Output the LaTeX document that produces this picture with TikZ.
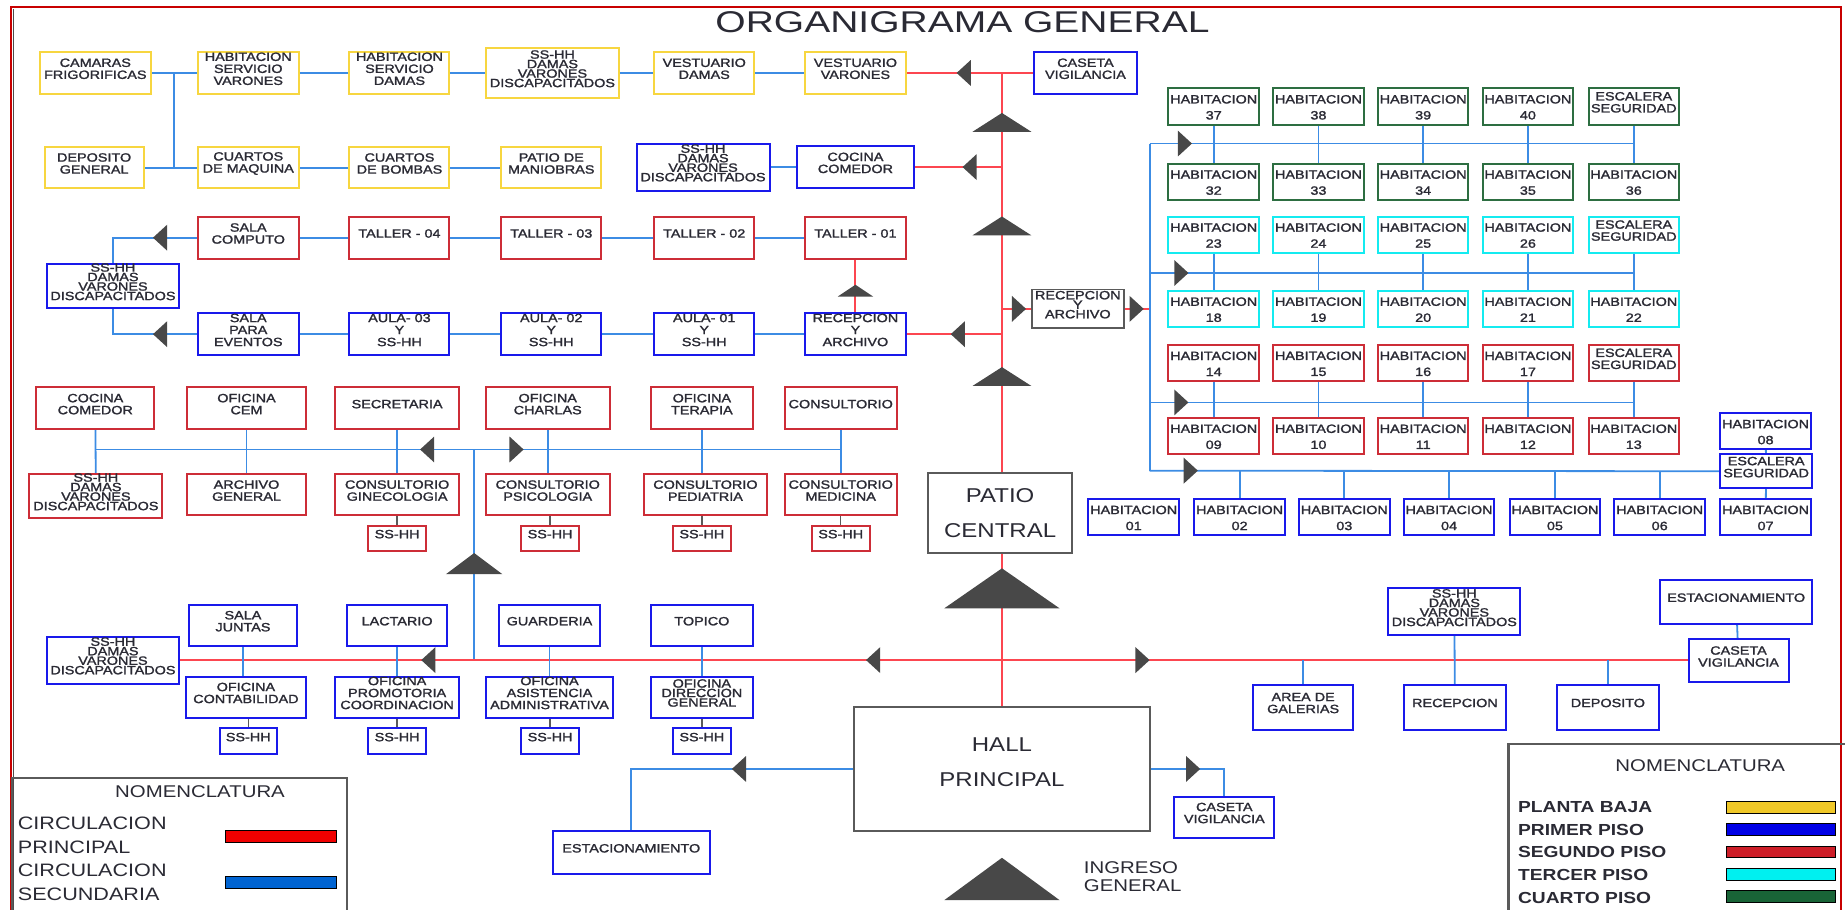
\documentclass[tikz,border=0pt]{standalone}
\usepackage{fontspec}
\setmainfont{Liberation Sans}
\newfontfamily\bxfam[FakeStretch=1.2,FakeBold=1.6]{Liberation Sans}
\newfontfamily\lgfam[FakeStretch=1.2]{Liberation Sans}
\newfontfamily\ttlfam[FakeStretch=1.3]{Liberation Sans}
\usetikzlibrary{fit}
\pgfdeclarelayer{bg}\pgfsetlayers{bg,main}
\definecolor{cyel}{RGB}{247,214,64}
\definecolor{cblu}{RGB}{25,25,235}
\definecolor{cred}{RGB}{205,45,55}
\definecolor{ccya}{RGB}{20,235,240}
\definecolor{cgrn}{RGB}{45,110,65}
\definecolor{cgry}{RGB}{90,90,90}
\definecolor{lblue}{RGB}{60,140,228}
\definecolor{lred}{RGB}{252,70,80}
\definecolor{tgray}{RGB}{72,72,72}
\definecolor{txt}{RGB}{42,42,52}
\definecolor{frame}{RGB}{200,0,0}
\definecolor{barred}{RGB}{240,0,0}
\definecolor{barblue}{RGB}{0,100,210}
\definecolor{baryel}{RGB}{240,200,40}
\definecolor{barblu}{RGB}{0,0,230}
\definecolor{barred2}{RGB}{205,30,40}
\definecolor{barcya}{RGB}{0,240,240}
\definecolor{bargrn}{RGB}{25,100,55}
\newcommand\fA{\bxfam\fontsize{12}{12}\selectfont}
\newcommand\fS{\bxfam\fontsize{12}{9.5}\selectfont}
\newcommand\fR{\bxfam\fontsize{12}{16}\selectfont}
\newcommand\fB{\lgfam\fontsize{20}{35}\selectfont}
\newcommand\fL{\lgfam\fontsize{18}{23.5}\selectfont}
\newcommand\fLB{\lgfam\bfseries\fontsize{16}{20}\selectfont}
\newcommand\fN{\lgfam\fontsize{17}{20}\selectfont}
\newcommand\fI{\lgfam\fontsize{17}{17.6}\selectfont}
\newcommand\fT{\ttlfam\fontsize{30}{32}\selectfont}
\tikzset{
 bx/.style={draw, line width=2pt, inner sep=0pt, outer sep=0pt, align=center, font=\fA, text=txt, fill=white},
 yb/.style={bx, draw=cyel}, bb/.style={bx, draw=cblu}, rb/.style={bx, draw=cred},
 cb/.style={bx, draw=ccya}, gb/.style={bx, draw=cgrn}, kb/.style={bx, draw=cgry, line width=2.2pt},
 ss/.style={font=\fS}, rm/.style={font=\fR},
 sec/.style={draw=lblue, line width=1.8pt},
 pri/.style={draw=lred, line width=2pt},
 stub/.style={draw=cgry, line width=1.5pt},
 tri/.style={fill=tgray},
 bar/.style={draw=black, line width=1pt, inner sep=0pt},
 lgt/.style={anchor=west, inner sep=0pt, text=txt},
}
\newcommand\tril[2]{\fill[tri] (#1,#2) -- ++(12,-11) -- ++(0,22) -- cycle;}
\newcommand\trir[2]{\fill[tri] (#1,#2) -- ++(-12,-11) -- ++(0,22) -- cycle;}
\newcommand\triu[4]{\fill[tri] ({#1-#3},#2) -- ({#1+#3},#2) -- (#1,{#2-#4}) -- cycle;}
\newcommand\rmbox[5]{\node[#1, fit={(#2,#3)({#2+77},{#3+31})}] (#4) {#5};}
\newcommand\hab[1]{\mbox{}\\[-6pt]HABITACION\\#1}
\begin{document}
\begin{tikzpicture}[x=1.1767pt, y=-1.1767pt]
\path[use as bounding box] (0,0) rectangle (1568,773);
% frame
\draw[frame, line width=2pt] (9,800) -- (9,6) -- (1565,6) -- (1565,800);
\draw[black!70, line width=0.6pt] (11.5,8) -- (11.5,800);
\node[font=\fT, text=txt] (ttl) at (818,19) {ORGANIGRAMA GENERAL};

% ---------- row 1 (planta baja)
\node[yb, fit={(34,44)(128,80)}] (cam) {CAMARAS\\FRIGORIFICAS};
\node[yb, fit={(168,44)(254,80)}] (hsv) {HABITACION\\SERVICIO\\VARONES};
\node[yb, fit={(297,44)(382,80)}] (hsd) {HABITACION\\SERVICIO\\DAMAS};
\node[yb, ss, fit={(413,41)(526,83)}] (ssa) {SS-HH\\DAMAS\\VARONES\\DISCAPACITADOS};
\node[yb, fit={(556,44)(641,80)}] (vd) {VESTUARIO\\DAMAS};
\node[yb, fit={(684,44)(770,80)}] (vv) {VESTUARIO\\VARONES};
\node[bb, fit={(879,44)(966,80)}] (cv1) {CASETA\\VIGILANCIA};
% row 2
\node[yb, fit={(38,125)(122,160)}] (dg) {DEPOSITO\\GENERAL};
\node[yb, fit={(168,125)(254,160)}] (cm) {CUARTOS\\DE MAQUINA};
\node[yb, fit={(297,125)(382,160)}] (cbo) {CUARTOS\\DE BOMBAS};
\node[yb, fit={(426,125)(511,160)}] (pm) {PATIO DE\\MANIOBRAS};
\node[bb, ss, fit={(541,122)(654,162)}] (ssb) {SS-HH\\DAMAS\\VARONES\\DISCAPACITADOS};
\node[bb, fit={(677,124)(777,160)}] (cc1) {COCINA\\COMEDOR};
% row 3
\node[rb, fit={(168,184)(254,220)}] (sc) {SALA\\COMPUTO};
\node[rb, fit={(297,184)(382,220)}] (t4) {TALLER - 04};
\node[rb, fit={(426,184)(511,220)}] (t3) {TALLER - 03};
\node[rb, fit={(556,184)(641,220)}] (t2) {TALLER - 02};
\node[rb, fit={(684,184)(770,220)}] (t1) {TALLER - 01};
\node[bb, ss, fit={(40,224)(152,262)}] (ssc) {SS-HH\\DAMAS\\VARONES\\DISCAPACITADOS};
% row 4
\node[bb, fit={(168,266)(254,302)}] (spe) {SALA\\PARA\\EVENTOS};
\node[bb, fit={(297,266)(382,302)}] (a3) {AULA- 03\\Y\\SS-HH};
\node[bb, fit={(426,266)(511,302)}] (a2) {AULA- 02\\Y\\SS-HH};
\node[bb, fit={(556,266)(641,302)}] (a1) {AULA- 01\\Y\\SS-HH};
\node[bb, fit={(684,266)(770,302)}] (rec1) {RECEPCION\\Y\\ARCHIVO};
\node[kb, ss, line width=1.8pt, fit={(877,246)(955,279)}] (rec2) {RECEPCION\\Y\\ARCHIVO};

% ---------- rooms
\rmbox{gb,rm}{993}{75}{h37}{\hab{37}}
\rmbox{gb,rm}{1082}{75}{h38}{\hab{38}}
\rmbox{gb,rm}{1171}{75}{h39}{\hab{39}}
\rmbox{gb,rm}{1260}{75}{h40}{\hab{40}}
\rmbox{gb}{1350}{75}{e4}{ESCALERA\\SEGURIDAD}
\rmbox{gb,rm}{993}{139}{h32}{\hab{32}}
\rmbox{gb,rm}{1082}{139}{h33}{\hab{33}}
\rmbox{gb,rm}{1171}{139}{h34}{\hab{34}}
\rmbox{gb,rm}{1260}{139}{h35}{\hab{35}}
\rmbox{gb,rm}{1350}{139}{h36}{\hab{36}}
\rmbox{cb,rm}{993}{184}{h23}{\hab{23}}
\rmbox{cb,rm}{1082}{184}{h24}{\hab{24}}
\rmbox{cb,rm}{1171}{184}{h25}{\hab{25}}
\rmbox{cb,rm}{1260}{184}{h26}{\hab{26}}
\rmbox{cb}{1350}{184}{e3}{ESCALERA\\SEGURIDAD}
\rmbox{cb,rm}{993}{247}{h18}{\hab{18}}
\rmbox{cb,rm}{1082}{247}{h19}{\hab{19}}
\rmbox{cb,rm}{1171}{247}{h20}{\hab{20}}
\rmbox{cb,rm}{1260}{247}{h21}{\hab{21}}
\rmbox{cb,rm}{1350}{247}{h22}{\hab{22}}
\rmbox{rb,rm}{993}{293}{h14}{\hab{14}}
\rmbox{rb,rm}{1082}{293}{h15}{\hab{15}}
\rmbox{rb,rm}{1171}{293}{h16}{\hab{16}}
\rmbox{rb,rm}{1260}{293}{h17}{\hab{17}}
\rmbox{rb}{1350}{293}{e2}{ESCALERA\\SEGURIDAD}
\rmbox{rb,rm}{993}{355}{h09}{\hab{09}}
\rmbox{rb,rm}{1082}{355}{h10}{\hab{10}}
\rmbox{rb,rm}{1171}{355}{h11}{\hab{11}}
\rmbox{rb,rm}{1260}{355}{h12}{\hab{12}}
\rmbox{rb,rm}{1350}{355}{h13}{\hab{13}}
\rmbox{bb,rm}{925}{424}{r01}{\hab{01}}
\rmbox{bb,rm}{1015}{424}{r02}{\hab{02}}
\rmbox{bb,rm}{1104}{424}{r03}{\hab{03}}
\rmbox{bb,rm}{1193}{424}{r04}{\hab{04}}
\rmbox{bb,rm}{1283}{424}{r05}{\hab{05}}
\rmbox{bb,rm}{1372}{424}{r06}{\hab{06}}
\rmbox{bb,rm}{1462}{424}{r07}{\hab{07}}
\rmbox{bb,rm}{1462}{351}{h08}{\hab{08}}
\node[bb, fit={(1462,386)(1540,415)}] (esc1) {ESCALERA\\SEGURIDAD};

% ---------- middle (segundo piso)
\node[rb, fit={(31,329)(131,365)}] (mcc) {COCINA\\COMEDOR};
\node[rb, fit={(159,329)(260,365)}] (mcem) {OFICINA\\CEM};
\node[rb, fit={(285,329)(390,365)}] (msec) {SECRETARIA};
\node[rb, fit={(413,329)(518,365)}] (mcha) {OFICINA\\CHARLAS};
\node[rb, fit={(553,329)(640,365)}] (mter) {OFICINA\\TERAPIA};
\node[rb, fit={(667,329)(762,365)}] (mcon) {CONSULTORIO};
\node[rb, ss, fit={(25,403)(138,440)}] (mss) {SS-HH\\DAMAS\\VARONES\\DISCAPACITADOS};
\node[rb, fit={(159,403)(260,438)}] (marc) {ARCHIVO\\GENERAL};
\node[rb, fit={(285,403)(390,438)}] (mgin) {CONSULTORIO\\GINECOLOGIA};
\node[rb, fit={(413,403)(518,438)}] (mpsi) {CONSULTORIO\\PSICOLOGIA};
\node[rb, fit={(547,403)(652,438)}] (mped) {CONSULTORIO\\PEDIATRIA};
\node[rb, fit={(667,403)(762,438)}] (mmed) {CONSULTORIO\\MEDICINA};
\node[rb, fit={(313,447)(362,468)}] (s1) {SS-HH};
\node[rb, fit={(443,447)(492,468)}] (s2) {SS-HH};
\node[rb, fit={(572,447)(621,468)}] (s3) {SS-HH};
\node[rb, fit={(690,447)(739,468)}] (s4) {SS-HH};

% ---------- lower (primer piso)
\node[bb, ss, fit={(40,541)(152,581)}] (lss) {SS-HH\\DAMAS\\VARONES\\DISCAPACITADOS};
\node[bb, fit={(161,514)(252,549)}] (lsj) {SALA\\JUNTAS};
\node[bb, fit={(295,514)(380,549)}] (llac) {LACTARIO};
\node[bb, fit={(424,514)(510,549)}] (lgua) {GUARDERIA};
\node[bb, fit={(553,514)(640,549)}] (ltop) {TOPICO};
\node[bb, fit={(158,575)(260,610)}] (lcon) {OFICINA\\CONTABILIDAD};
\node[bb, fit={(285,575)(390,610)}] (lpro) {OFICINA\\PROMOTORIA\\COORDINACION};
\node[bb, fit={(413,575)(521,610)}] (lasi) {OFICINA\\ASISTENCIA\\ADMINISTRATIVA};
\node[bb, ss, fit={(553,575)(640,610)}] (ldir) {OFICINA\\DIRECCION\\GENERAL};
\node[bb, fit={(187,619)(235,641)}] (u1) {SS-HH};
\node[bb, fit={(313,619)(362,641)}] (u2) {SS-HH};
\node[bb, fit={(443,619)(492,641)}] (u3) {SS-HH};
\node[bb, fit={(572,619)(621,641)}] (u4) {SS-HH};
\node[bb, ss, fit={(1180,500)(1292,540)}] (rss) {SS-HH\\DAMAS\\VARONES\\DISCAPACITADOS};
\node[bb, fit={(1193,582)(1280,620)}] (rrec) {RECEPCION};
\node[bb, fit={(1065,582)(1150,620)}] (rgal) {AREA DE\\GALERIAS};
\node[bb, fit={(1323,582)(1410,620)}] (rdep) {DEPOSITO};
\node[bb, fit={(1411,493)(1540,530)}] (rest) {ESTACIONAMIENTO};
\node[bb, fit={(1435,543)(1520,580)}] (cv2) {CASETA\\VIGILANCIA};

% ---------- central
\node[kb, font=\fB, fit={(789,402)(911,470)}] (pc) {\mbox{}\\[-20pt]PATIO\\CENTRAL};
\node[kb, font=\fB, fit={(726,601)(977,706)}] (hall) {HALL\\PRINCIPAL};
\node[bb, fit={(470,706)(603,743)}] (est2) {ESTACIONAMIENTO};
\node[bb, fit={(998,677)(1083,712)}] (cv3) {CASETA\\VIGILANCIA};
\node[font=\fI, text=txt, align=left, anchor=west, inner sep=0pt] (ing) at (921,745) {INGRESO\\GENERAL};

% ---------- coordinates
\coordinate (j1) at (148,62);
\coordinate (bt) at (977,122);
\coordinate (bm2) at (977,232);
\coordinate (bm3) at (977,342);
\coordinate (b4) at (977,400);
\coordinate (mb) at (403,382);

% ---------- connectors
\begin{pgfonlayer}{bg}
\draw[pri] (hall.north) -- (hall.north |- vv.east);
\draw[sec] (cam) -- (hsv) -- (hsd) -- (ssa) -- (vd) -- (vv);
\draw[pri] (vv) -- (cv1);
\draw[sec] (j1) -- (j1 |- dg.east);
\draw[sec] (dg) -- (cm) -- (cbo) -- (pm);
\draw[sec] (ssb) -- (cc1);
\draw[pri] (cc1.east) -- (cc1.east -| hall.north);
\draw[sec] (sc) -- (t4) -- (t3) -- (t2) -- (t1);
\draw[sec] (spe) -- (a3) -- (a2) -- (a1) -- (rec1);
\draw[pri] (t1) -- (rec1);
\draw[pri] (rec1.east) -- (rec1.east -| hall.north);
\draw[sec] (sc.west) -- (sc.west -| ssc.north) -- (ssc.north);
\draw[sec] (ssc.south) -- (ssc.south |- spe.west) -- (spe.west);
\draw[pri] (rec2.west -| hall.north) -- (rec2.west);
\draw[pri] (rec2.east) -- (rec2.east -| bt);
% rooms
\draw[sec] (bt) -- (b4);
\draw[sec] (bt) -- (bt -| e4.south);
\draw[sec] (bm2) -- (bm2 -| e3.south);
\draw[sec] (bm3) -- (bm3 -| e2.south);
\draw[sec] (b4) -- (esc1.west);
\foreach \a/\b in {h37/h32,h38/h33,h39/h34,h40/h35,e4/h36,h23/h18,h24/h19,h25/h20,h26/h21,e3/h22,h14/h09,h15/h10,h16/h11,h17/h12,e2/h13}
  \draw[sec] (\a) -- (\b);
\foreach \r in {r02,r03,r04,r05,r06}
  \draw[sec] (\r.north |- b4) -- (\r.north);
\draw[sec] (h08) -- (esc1);
\draw[sec] (esc1) -- (r07);
% middle
\draw[sec] (mcc.south |- mb) -- (mcon.south |- mb);
\draw[sec] (mcc) -- (mss);
\draw[sec] (mcem) -- (marc);
\draw[sec] (msec) -- (mgin);
\draw[sec] (mcha) -- (mpsi);
\draw[sec] (mter.south) -- (mter.south |- mped.north);
\draw[sec] (mcon) -- (mmed);
\draw[stub] (s1.north |- mgin.south) -- (s1.north);
\draw[stub] (s2.north |- mpsi.south) -- (s2.north);
\draw[stub] (s3.north |- mped.south) -- (s3.north);
\draw[stub] (s4.north |- mmed.south) -- (s4.north);
\draw[sec] (mb) -- (mb |- lss.east);
% lower
\draw[pri] (lss.east) -- (lss.east -| cv2.west);
\draw[sec] (lsj.south) -- (lsj.south |- lcon.north);
\draw[sec] (llac) -- (lpro);
\draw[sec] (lgua) -- (lasi);
\draw[sec] (ltop.south) -- (ltop.south |- ldir.north);
\draw[stub] (u1.north |- lcon.south) -- (u1.north);
\draw[stub] (u2.north |- lpro.south) -- (u2.north);
\draw[stub] (u3.north |- lasi.south) -- (u3.north);
\draw[stub] (u4.north |- ldir.south) -- (u4.north);
\draw[sec] (rss) -- (rrec);
\draw[sec] (rgal.north |- lss.east) -- (rgal.north);
\draw[sec] (rdep.north |- lss.east) -- (rdep.north);
\draw[sec] (rest) -- (cv2);
\draw[sec] (hall.west) -- (hall.west -| est2.north) -- (est2.north);
\draw[sec] (hall.east) -- (hall.east -| cv3.north) -- (cv3.north);
\end{pgfonlayer}

% ---------- triangles
\tril{813}{62}
\tril{818}{142}
\tril{130}{202}
\tril{130}{284}
\tril{808}{284}
\trir{872}{262.5}
\trir{972}{262.5}
\trir{1013}{122}
\trir{1010}{232}
\trir{1010}{342}
\trir{1018}{400}
\tril{357}{382}
\trir{445}{382}
\tril{358}{561}
\tril{736}{561}
\trir{977}{561}
\tril{622}{653.5}
\trir{1020}{653.5}
\triu{851.5}{112}{25}{16}
\triu{851.5}{200}{25}{16}
\triu{851.5}{328}{25}{16}
\triu{727}{252}{15}{10}
\triu{403}{488}{24}{18}
\triu{851.5}{517}{49}{34}
\triu{851.5}{765}{49}{36}

% ---------- legends
\draw[cgry, line width=2.2pt] (10,800) -- (10,661) -- (295,661) -- (295,800);
\node[font=\fN, text=txt] (lgn1) at (170,673) {NOMENCLATURA};
\node[lgt, font=\fL] (lg1a) at (15,700) {CIRCULACION};
\node[lgt, font=\fL] (lg1b) at (15,720) {PRINCIPAL};
\node[lgt, font=\fL] (lg1c) at (15,740) {CIRCULACION};
\node[lgt, font=\fL] (lg1d) at (15,760) {SECUNDARIA};
\node[bar, fill=barred, fit={(192,706)(286,716)}] (bar1) {};
\node[bar, fill=barblue, fit={(192,745)(286,755)}] (bar2) {};

\draw[cgry, line width=2.2pt] (1282,800) -- (1282,632) -- (1580,632);
\node[font=\fN, text=txt] (lgn2) at (1445,651) {NOMENCLATURA};
\node[lgt, font=\fLB] (lg2a) at (1290,686) {PLANTA BAJA};
\node[lgt, font=\fLB] (lg2b) at (1290,705) {PRIMER PISO};
\node[lgt, font=\fLB] (lg2c) at (1290,724) {SEGUNDO PISO};
\node[lgt, font=\fLB] (lg2d) at (1290,744) {TERCER PISO};
\node[lgt, font=\fLB] (lg2e) at (1290,763) {CUARTO PISO};
\node[bar, fill=baryel, fit={(1467,681)(1560,691)}] (bar3) {};
\node[bar, fill=barblu, fit={(1467,700)(1560,710)}] (bar4) {};
\node[bar, fill=barred2, fit={(1467,719)(1560,729)}] (bar5) {};
\node[bar, fill=barcya, fit={(1467,738)(1560,748)}] (bar6) {};
\node[bar, fill=bargrn, fit={(1467,757)(1560,767)}] (bar7) {};
\end{tikzpicture}
\end{document}
